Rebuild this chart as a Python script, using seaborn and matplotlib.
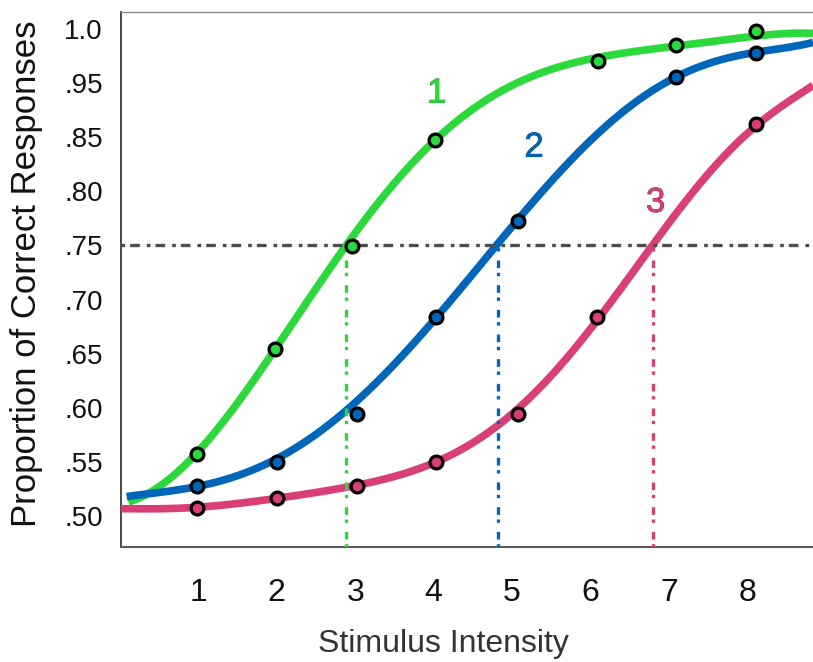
import matplotlib
matplotlib.use("Agg")
import matplotlib.pyplot as plt
import matplotlib.patheffects as pe
import seaborn as sns

# fitted psychometric curves, sampled off the figure
# (y is in plotted position units: .50 tick = 0.50, top tick = 0.95)
green_curve_x = [0.11, 0.5, 1.0, 1.5, 2.0, 2.5, 3.0, 3.5, 4.0, 4.5, 5.0, 5.5, 6.0, 6.5, 7.0, 7.5, 8.0, 8.5, 8.835]
green_curve_y = [0.513, 0.527, 0.5592, 0.6045, 0.6572, 0.7110, 0.7600, 0.8065, 0.8465, 0.8775, 0.8990,
                 0.9120, 0.9212, 0.9284, 0.9342, 0.9388, 0.9424, 0.9452, 0.9464]
blue_curve_x = [0.087, 0.5, 1.0, 1.5, 2.0, 2.5, 3.0, 3.5, 4.0, 4.5, 5.0, 5.5, 6.0, 6.5, 7.0, 7.5, 8.0, 8.5, 8.835]
blue_curve_y = [0.518, 0.5215, 0.5275, 0.5375, 0.5530, 0.5750, 0.6045, 0.6405, 0.6814, 0.7237, 0.7672,
                0.8088, 0.8472, 0.8791, 0.9027, 0.9175, 0.9268, 0.9336, 0.9374]
pink_curve_x = [0.0, 0.5, 1.0, 1.5, 2.0, 2.5, 3.0, 3.5, 4.0, 4.5, 5.0, 5.5, 6.0, 6.5, 7.0, 7.5, 8.0, 8.5, 8.835]
pink_curve_y = [0.5065, 0.5070, 0.5083, 0.5113, 0.5158, 0.5213, 0.5283, 0.5378, 0.5500, 0.5670, 0.5915,
                0.6290, 0.6760, 0.7230, 0.7697, 0.8145, 0.8537, 0.8838, 0.8971]

# observed data points
green_pts_x = [0.98, 1.98, 2.96, 4.02, 6.09, 7.09, 8.11]
green_pts_y = [0.557, 0.654, 0.7498, 0.8475, 0.9208, 0.935, 0.9485]
blue_pts_x = [0.99, 2.0, 3.02, 4.03, 5.07, 7.09, 8.11]
blue_pts_y = [0.528, 0.5502, 0.5943, 0.6842, 0.7722, 0.906, 0.9282]
pink_pts_x = [0.99, 2.0, 3.02, 4.03, 5.07, 6.08, 8.11]
pink_pts_y = [0.5077, 0.5164, 0.528, 0.5502, 0.5943, 0.6842, 0.862]

# 75% thresholds
criterion = 0.75
thresholds = [2.883, 4.824, 6.79]

curve_names = ["1", "2", "3"]
label_x = [4.04, 5.28, 6.83]
label_y = [0.882, 0.832, 0.781]

x_ticks = [1, 2, 3, 4, 5, 6, 7, 8]
y_ticks = [0.50, 0.55, 0.60, 0.65, 0.70, 0.75, 0.80, 0.85, 0.90, 0.95]
y_tick_labels = [".50", ".55", ".60", ".65", ".70", ".75", ".80", ".85", ".95", "1.0"]

colors = ["#2bd93c", "#0066b9", "#d93f76"]
edge_colors = ["#1b6b24", "#0a2f5a", "#6a1a36"]

sns.set_theme(style="white")
plt.rcParams["font.family"] = ["Liberation Sans", "DejaVu Sans"]

fig = plt.figure(figsize=(8.13, 6.62), dpi=100)
ax = fig.add_axes([0.1488, 0.1737, 0.8512, 0.8082])

curves = [(green_curve_x, green_curve_y), (blue_curve_x, blue_curve_y), (pink_curve_x, pink_curve_y)]
points = [(green_pts_x, green_pts_y), (blue_pts_x, blue_pts_y), (pink_pts_x, pink_pts_y)]

# smooth the sampled curves with seaborn's polynomial regression
for (cx, cy), c in zip(curves, colors):
    sns.regplot(x=cx, y=cy, ax=ax, order=7, ci=None, scatter=False, truncate=True,
                line_kws={"color": c, "linewidth": 5.5, "solid_capstyle": "butt", "zorder": 3})

ax.set_xlim(0.0148, 8.835)
ax.set_ylim(0.4713, 0.9658)

# criterion line and threshold drops
ax.axhline(criterion, color="#4d4d4d", linewidth=2.4, linestyle=(0, (1.1, 1.5, 2.9, 2.1)), zorder=4)
ymin = ax.get_ylim()[0]
for t, c in zip(thresholds, colors):
    ax.vlines(t, ymin, criterion, colors=c, linewidth=2.4, linestyles=[(0, (1.0, 1.4, 2.3, 2.7))], zorder=4)

for (px, py), c in zip(points, colors):
    sns.scatterplot(x=px, y=py, ax=ax, color=c, s=85, edgecolor="black", linewidth=2.3,
                    zorder=6, legend=False)

for name, lx, ly, c, ec in zip(curve_names, label_x, label_y, colors, edge_colors):
    ax.text(lx, ly, name, color=c, fontsize=25, ha="center", va="baseline",
            path_effects=[pe.withStroke(linewidth=0.5, foreground=ec)], zorder=7)

ax.set_xticks(x_ticks)
ax.set_xticklabels([str(v) for v in x_ticks])
ax.set_yticks(y_ticks)
ax.set_yticklabels(y_tick_labels)

ax.tick_params(axis="x", direction="in", length=4.5, width=1.2, color="#444444",
               labelsize=23, pad=22, labelcolor="#111111")
ax.tick_params(axis="y", direction="in", length=5, width=1.0, color="#666666",
               labelsize=20, pad=13, labelcolor="#111111")

ax.spines["right"].set_visible(False)
ax.spines["top"].set_color("#8a8a8a")
ax.spines["top"].set_linewidth(1.0)
ax.spines["left"].set_color("#3a3a3a")
ax.spines["left"].set_linewidth(1.3)
ax.spines["bottom"].set_color("#5a5a5a")
ax.spines["bottom"].set_linewidth(1.5)

ax.set_xlabel("Stimulus Intensity", fontsize=23, color="#333333", va="baseline")
ax.xaxis.set_label_coords(0.4653, -0.1963)
ax.set_ylabel("Proportion of Correct Responses", fontsize=25, color="#111111")
ax.yaxis.set_label_coords(-0.112, 0.51)

fig.savefig("out.png", dpi=100)
